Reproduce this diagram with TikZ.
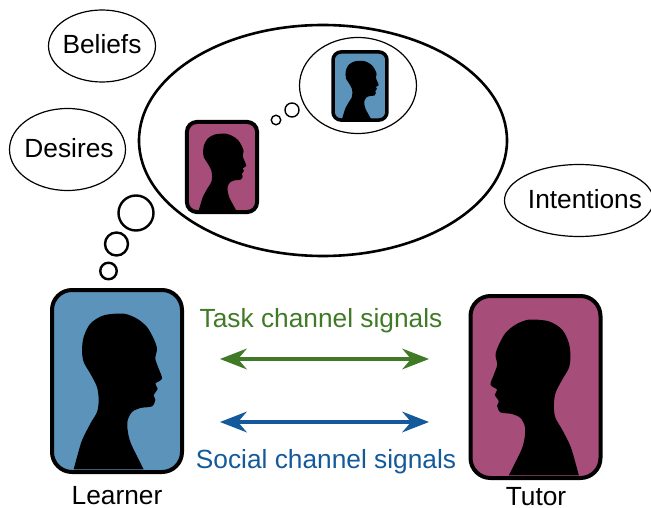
\documentclass[tikz,border=0pt]{standalone}
\usepackage{fontspec}
\setmainfont{Liberation Sans}
\usetikzlibrary{shapes.geometric,arrows.meta}
\definecolor{lblue}{RGB}{91,147,186}
\definecolor{lpink}{RGB}{166,77,121}
\definecolor{tgreen}{RGB}{64,122,38}
\definecolor{sblue}{RGB}{20,90,155}
\tikzset{
  x=1pt,y=-1pt,
  lab/.style={font=\fontsize{26.3}{26.3}\selectfont,text=black,inner sep=0pt},
  thought/.style 2 args={draw=black,line width=1.2pt,fill=white,ellipse,minimum width=#1,minimum height=#2,inner sep=0pt,outer sep=0pt},
  bubble/.style={draw=black,line width=2.4pt,circle,inner sep=0pt,outer sep=0pt,minimum size=#1},
  link/.style={line width=4.4pt,{Stealth[length=27pt,width=21pt,inset=9pt,line width=0pt]}-{Stealth[length=27pt,width=21pt,inset=9pt,line width=0pt]}},
  pics/person/.style n args={4}{code={
    \draw[fill=#1,draw=black,line width=#3,rounded corners=#4] (-65,-91) rectangle (65,91);
    \begin{scope}[xscale=#2,scale=.33333,shift={(-230,-302)}]
    \fill[black] plot[smooth,tension=.5] coordinates {(100,567) (110,530) (125,480) (150,430) (170,395) (175,360) (170,320) (150,280) (130,245) (125,210) (130,170) (150,130) (190,105) (250,100) (290,115) (320,140) (340,175) (350,205) (345,235) (355,265) (365,295) (345,310) (352,325) (340,345) (345,358) (335,378) (300,383) (275,395) (262,420) (262,450) (272,490) (310,567)} -- cycle;
    \end{scope}
  }}
}
\begin{document}
\begin{tikzpicture}
\useasboundingbox (0,0) rectangle (651,508);
\node[thought={368pt}{231pt},line width=2.6pt] (big) at (323,140.5) {};
\node[thought={117pt}{96pt}] (small) at (358,85.5) {};
\node[thought={107pt}{72pt}] (bel) at (102,46) {};
\node[lab] (bell) at (102,44) {Beliefs};
\node[thought={116pt}{82pt}] (des) at (67.5,149.5) {};
\node[lab] (desl) at (69,148) {Desires};
\node[thought={149pt}{72pt}] (int) at (579,200.5) {};
\node[lab] (intl) at (585,199) {Intentions};
\node[bubble=35pt] (b1) at (136,213) {};
\node[bubble=23pt] (b2) at (116.5,244) {};
\node[bubble=16.5pt] (b3) at (108.5,271) {};
\node[bubble=14pt,line width=1.4pt] (b4) at (292,110) {};
\node[bubble=9.5pt,line width=1.4pt] (b5) at (276,120) {};
\pic at (117,381) {person={lblue}{1}{4pt}{20pt}};
\pic at (535.5,387) {person={lpink}{-1}{4pt}{20pt}};
\pic[xscale=.54,yscale=.495] at (222,167) {person={lpink}{1}{4pt}{10pt}};
\pic[xscale=.415,yscale=.374] at (360,86) {person={lblue}{1}{3.5pt}{8pt}};
\node[lab] (ln) at (117,495.5) {Learner};
\node[lab] (tn) at (536,497) {Tutor};
\node[lab,text=tgreen] (ts) at (321,321) {Task channel signals};
\node[lab,text=sblue] (ss) at (326,462) {Social channel signals};
\coordinate (g1) at (220,359); \coordinate (g2) at (429,359);
\coordinate (s1) at (220,422); \coordinate (s2) at (429,422);
\draw[link,tgreen] (g1) -- (g2);
\draw[link,sblue] (s1) -- (s2);
\end{tikzpicture}
\end{document}
